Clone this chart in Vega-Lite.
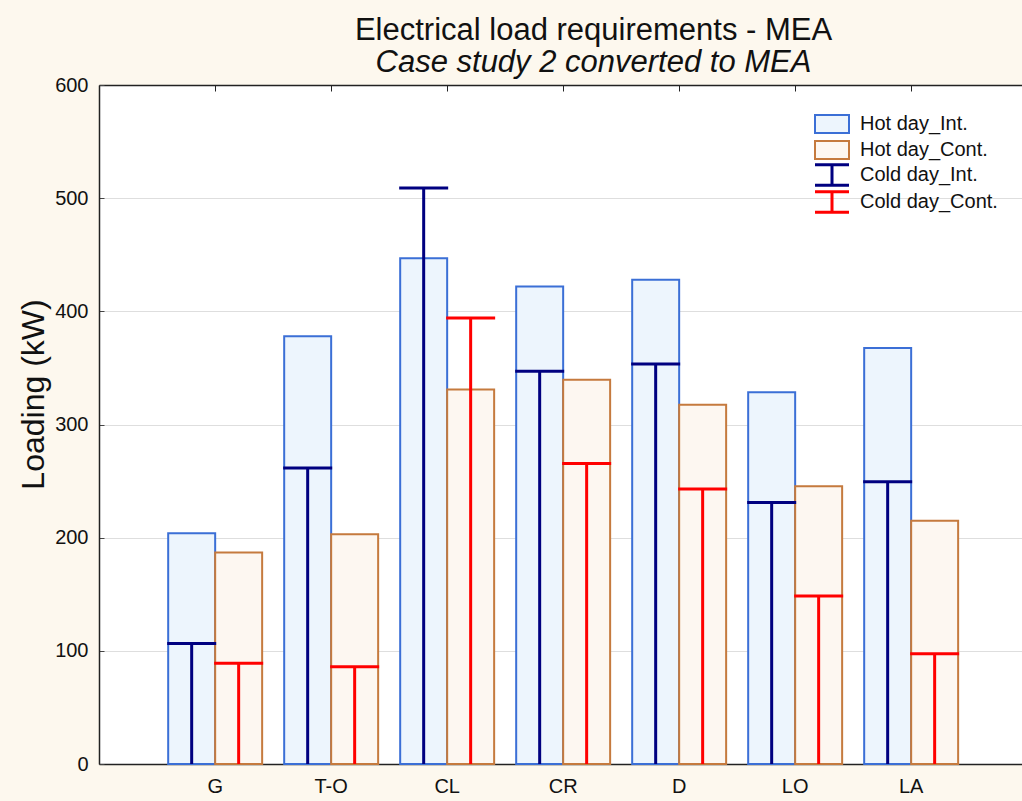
{
  "$schema": "https://vega.github.io/schema/vega-lite/v6.json",
  "width": 923,
  "height": 679,
  "autosize": "none",
  "padding": {"left": 99, "top": 85, "right": 0, "bottom": 37},
  "background": "#fdf8ee",
  "config": {"view": {"fill": "white", "stroke": null}, "font": "Liberation Sans"},
  "title": {
    "text": "Electrical load requirements - MEA",
    "subtitle": "Case study 2 converted to MEA",
    "fontSize": 31,
    "subtitleFontSize": 31,
    "font": "Liberation Sans",
    "subtitleFont": "Liberation Sans",
    "fontWeight": "normal",
    "subtitleFontStyle": "italic",
    "color": "#111111",
    "subtitleColor": "#111111",
    "anchor": "middle",
    "frame": "group",
    "dx": 33,
    "offset": -4,
    "subtitlePadding": 1
  },
  "data": {
    "values": [
      {"cat": "G", "type": "Int", "hotSeries": "Hot day_Int.", "coldSeries": "Cold day_Int.", "hot": 204, "cold": 106.5},
      {"cat": "G", "type": "Cont", "hotSeries": "Hot day_Cont.", "coldSeries": "Cold day_Cont.", "hot": 187, "cold": 89},
      {"cat": "T-O", "type": "Int", "hotSeries": "Hot day_Int.", "coldSeries": "Cold day_Int.", "hot": 378, "cold": 261.5},
      {"cat": "T-O", "type": "Cont", "hotSeries": "Hot day_Cont.", "coldSeries": "Cold day_Cont.", "hot": 203, "cold": 86},
      {"cat": "CL", "type": "Int", "hotSeries": "Hot day_Int.", "coldSeries": "Cold day_Int.", "hot": 447, "cold": 509},
      {"cat": "CL", "type": "Cont", "hotSeries": "Hot day_Cont.", "coldSeries": "Cold day_Cont.", "hot": 331, "cold": 394},
      {"cat": "CR", "type": "Int", "hotSeries": "Hot day_Int.", "coldSeries": "Cold day_Int.", "hot": 422, "cold": 347},
      {"cat": "CR", "type": "Cont", "hotSeries": "Hot day_Cont.", "coldSeries": "Cold day_Cont.", "hot": 339.5, "cold": 265.5},
      {"cat": "D", "type": "Int", "hotSeries": "Hot day_Int.", "coldSeries": "Cold day_Int.", "hot": 428, "cold": 353.5},
      {"cat": "D", "type": "Cont", "hotSeries": "Hot day_Cont.", "coldSeries": "Cold day_Cont.", "hot": 317.5, "cold": 243},
      {"cat": "LO", "type": "Int", "hotSeries": "Hot day_Int.", "coldSeries": "Cold day_Int.", "hot": 328.5, "cold": 231},
      {"cat": "LO", "type": "Cont", "hotSeries": "Hot day_Cont.", "coldSeries": "Cold day_Cont.", "hot": 245.5, "cold": 148.5},
      {"cat": "LA", "type": "Int", "hotSeries": "Hot day_Int.", "coldSeries": "Cold day_Int.", "hot": 367.5, "cold": 249.5},
      {"cat": "LA", "type": "Cont", "hotSeries": "Hot day_Cont.", "coldSeries": "Cold day_Cont.", "hot": 215, "cold": 97.5}
    ]
  },
  "layer": [
    {
      "mark": {"type": "bar", "strokeWidth": 2},
      "encoding": {
        "x": {
          "field": "cat",
          "type": "nominal",
          "sort": ["G", "T-O", "CL", "CR", "D", "LO", "LA"],
          "scale": {"paddingInner": 0.19, "paddingOuter": 0.5735, "align": 0.52},
          "axis": {
            "orient": "bottom",
            "title": null,
            "ticks": false,
            "grid": false,
            "labelAngle": 0,
            "labelFontSize": 20,
            "labelColor": "#111111",
            "labelPadding": 12,
            "domainColor": "#222222",
            "domainWidth": 1.5
          }
        },
        "xOffset": {
          "field": "type",
          "type": "nominal",
          "sort": ["Int", "Cont"],
          "scale": {"paddingInner": 0, "paddingOuter": 0}
        },
        "y": {
          "field": "hot",
          "type": "quantitative",
          "scale": {"domain": [0, 600], "nice": false},
          "axis": {
            "title": "Loading (kW)",
            "values": [0, 100, 200, 300, 400, 500, 600],
            "grid": true,
            "gridColor": "#dedede",
            "domainColor": "#222222",
            "domainWidth": 1.5,
            "tickSize": -5,
            "tickColor": "#444444",
            "labelFontSize": 20,
            "labelColor": "#111111",
            "labelPadding": 16,
            "titleFontSize": 32,
            "titleFontWeight": "normal",
            "titleColor": "#111111",
            "titleAngle": 270,
            "titleAlign": "center",
            "titleBaseline": "middle",
            "titleX": -66,
            "titleY": 309
          }
        },
        "fill": {
          "field": "hotSeries",
          "type": "nominal",
          "scale": {"domain": ["Hot day_Int.", "Hot day_Cont."], "range": ["#edf5fd", "#fdf7f1"]},
          "legend": {
            "orient": "none",
            "legendX": 723,
            "legendY": 29,
            "title": null,
            "symbolType": "M-2,-1.06H2V1.06H-2Z",
            "symbolSize": 289,
            "symbolStrokeWidth": 2,
            "symbolOpacity": 1,
            "labelFontSize": 20,
            "labelColor": "#111111",
            "labelOffset": 18,
            "rowPadding": -2
          }
        },
        "stroke": {
          "field": "hotSeries",
          "type": "nominal",
          "scale": {"domain": ["Hot day_Int.", "Hot day_Cont."], "range": ["#3b6fd6", "#c57a3e"]},
          "legend": {
            "orient": "none",
            "legendX": 723,
            "legendY": 29,
            "title": null,
            "symbolType": "M-2,-1.06H2V1.06H-2Z",
            "symbolSize": 289,
            "symbolStrokeWidth": 2,
            "symbolOpacity": 1,
            "labelFontSize": 20,
            "labelColor": "#111111",
            "labelOffset": 18,
            "rowPadding": -2
          }
        }
      }
    },
    {
      "mark": {"type": "rule", "strokeWidth": 3},
      "encoding": {
        "x": {
          "field": "cat",
          "type": "nominal",
          "sort": ["G", "T-O", "CL", "CR", "D", "LO", "LA"],
          "axis": {
            "orient": "top",
            "title": null,
            "labels": false,
            "grid": false,
            "tickSize": -6,
            "tickColor": "#222222",
            "domainColor": "#222222",
            "domainWidth": 1.5
          }
        },
        "xOffset": {"field": "type", "type": "nominal", "sort": ["Int", "Cont"]},
        "y": {"field": "cold", "type": "quantitative"},
        "y2": {"datum": 0},
        "color": {
          "field": "coldSeries",
          "type": "nominal",
          "scale": {"domain": ["Cold day_Int.", "Cold day_Cont."], "range": ["#000080", "#ff0000"]},
          "legend": {
            "orient": "none",
            "legendX": 723,
            "legendY": 80,
            "title": null,
            "symbolType": "M-2,-1.2H2M0,-1.2V1.2M-2,1.2H2",
            "symbolSize": 289,
            "symbolStrokeWidth": 3,
            "symbolOpacity": 1,
            "labelFontSize": 20,
            "labelColor": "#111111",
            "labelOffset": 18,
            "rowPadding": -11,
            "encode": {"symbols": {"update": {"strokeOpacity": {"value": 1}, "opacity": {"value": 1}}}}
          }
        }
      }
    },
    {
      "mark": {"type": "tick", "thickness": 3, "size": 49, "opacity": 1},
      "encoding": {
        "x": {
          "field": "cat",
          "type": "nominal",
          "sort": ["G", "T-O", "CL", "CR", "D", "LO", "LA"],
          "axis": null
        },
        "xOffset": {"field": "type", "type": "nominal", "sort": ["Int", "Cont"]},
        "y": {"field": "cold", "type": "quantitative"},
        "color": {"field": "coldSeries", "type": "nominal"}
      }
    }
  ],
  "resolve": {"axis": {"x": "independent"}}
}
